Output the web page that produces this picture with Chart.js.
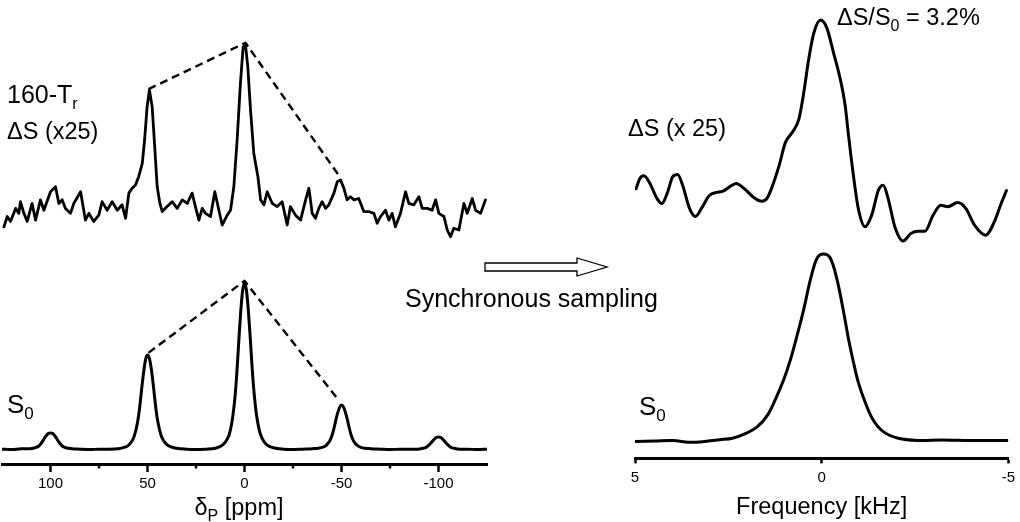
<!DOCTYPE html>
<html>
<head>
<meta charset="utf-8">
<script src="https://cdn.jsdelivr.net/npm/chart.js@4.4.1/dist/chart.umd.min.js"></script>
<style>
  html, body { margin: 0; padding: 0; background: #fff; }
  #wrap { position: relative; width: 1020px; height: 522px; overflow: hidden; }
  canvas { position: absolute; left: 0; top: 0; }
</style>
</head>
<body>
<div id="wrap">
  <canvas id="left" width="1020" height="522"></canvas>
  <canvas id="right" width="1020" height="522"></canvas>
</div>
<script>
// ---------------- DATA ----------------
// Left panel: 31P spectrum, chemical shift (ppm) vs intensity (arb. units, stacked)
const leftTickValues = [100, 50, 0, -50, -100];
const leftMinorTicks = [75, 25, -25, -75];

const leftS0Ppm = [125, 120, 115, 111, 108, 106, 105, 104, 103, 102, 101, 100, 99, 98, 97, 96, 95, 94, 92, 89, 85, 80, 75, 70, 65, 62, 60, 58, 57, 56, 55, 54, 53, 52, 51, 50, 49, 48, 47, 46, 45, 44, 43, 42, 40, 38, 35, 30, 25, 20, 15, 12, 10, 8, 7, 6, 5, 4, 3, 2, 1, 0, -1, -2, -3, -4, -5, -6, -7, -8, -10, -12, -15, -20, -25, -30, -35, -38, -40, -42, -43, -44, -45, -46, -47, -48, -49, -50, -51, -52, -53, -54, -55, -56, -57, -58, -60, -62, -65, -70, -75, -80, -85, -89, -92, -94, -95, -96, -97, -98, -99, -100, -101, -102, -103, -104, -105, -106, -108, -111, -115, -120, -125];
const leftS0Int = [3.3, 3.2, 3.4, 3.4, 3.6, 4.0, 4.5, 5.1, 5.8, 6.4, 6.8, 6.9, 6.8, 6.4, 5.8, 5.1, 4.5, 4.0, 3.6, 3.4, 3.3, 3.2, 3.3, 3.3, 3.4, 3.7, 4.1, 5.1, 6.0, 7.5, 9.6, 12.7, 16.7, 20.4, 23.2, 24.2, 23.4, 21.0, 17.5, 13.5, 10.2, 8.0, 6.4, 5.4, 4.3, 3.8, 3.5, 3.3, 3.2, 3.3, 3.5, 4.0, 4.8, 6.4, 8.1, 10.7, 14.4, 19.9, 26.9, 33.6, 38.4, 40.2, 38.6, 34.0, 27.8, 21.0, 15.5, 11.5, 8.8, 6.9, 5.0, 4.1, 3.6, 3.3, 3.2, 3.3, 3.4, 3.5, 3.7, 4.1, 4.6, 5.2, 6.2, 7.7, 9.6, 11.3, 12.6, 13.1, 12.7, 11.5, 9.9, 8.0, 6.4, 5.3, 4.6, 4.2, 3.7, 3.5, 3.4, 3.3, 3.2, 3.3, 3.3, 3.3, 3.5, 3.8, 4.2, 4.6, 5.1, 5.6, 5.9, 6.0, 5.9, 5.6, 5.1, 4.6, 4.2, 3.8, 3.5, 3.3, 3.3, 3.2, 3.3];

const leftDsPpm = [124.0, 122.3, 120.6, 118.0, 116.3, 115.5, 113.7, 112.0, 109.5, 107.7, 105.2, 103.4, 100.0, 97.4, 95.7, 94.0, 92.3, 89.7, 88.0, 84.5, 82.0, 80.2, 77.7, 75.1, 73.4, 70.8, 68.2, 65.6, 63.1, 61.3, 59.6, 57.9, 56.2, 54.5, 52.7, 51.5, 50.2, 49.0, 47.6, 46.4, 45.0, 43.6, 42.4, 39.9, 37.3, 34.7, 32.1, 29.5, 27.0, 25.3, 23.5, 21.8, 20.1, 17.5, 15.3, 13.2, 11.5, 8.9, 7.2, 5.5, 3.8, 2.1, 0.7, -0.5, -1.7, -3.1, -4.8, -6.9, -8.3, -10.0, -11.7, -14.3, -16.8, -19.4, -22.0, -23.7, -26.3, -28.9, -31.5, -33.2, -34.9, -36.6, -38.3, -40.0, -41.8, -43.5, -46.1, -47.8, -49.5, -51.2, -52.9, -54.6, -56.4, -58.9, -61.5, -64.1, -66.7, -68.4, -70.1, -72.7, -74.4, -76.1, -77.8, -80.4, -83.0, -84.7, -87.3, -89.9, -91.6, -94.2, -96.7, -98.5, -100.2, -102.8, -104.5, -106.2, -107.9, -110.5, -113.1, -114.8, -117.4, -119.1, -121.7, -124.2];
const leftDsInt = [52.7, 55.0, 53.9, 56.8, 55.7, 58.3, 55.7, 53.9, 57.9, 54.2, 58.7, 56.4, 60.5, 61.6, 57.9, 58.7, 56.8, 55.7, 57.9, 60.5, 54.2, 55.7, 53.9, 55.3, 58.3, 56.4, 58.3, 56.4, 57.6, 54.6, 60.2, 61.3, 62.0, 63.9, 66.8, 72.0, 79.4, 83.1, 79.4, 71.3, 61.6, 57.9, 56.1, 57.2, 58.3, 56.8, 58.7, 57.9, 60.2, 57.2, 54.2, 56.8, 55.7, 55.0, 60.5, 56.4, 53.1, 55.3, 56.4, 61.6, 72.0, 84.6, 92.7, 93.1, 88.3, 78.7, 69.0, 63.9, 58.7, 57.6, 60.5, 57.9, 57.2, 58.3, 53.1, 57.2, 55.3, 54.2, 58.7, 61.3, 55.7, 54.6, 56.8, 58.3, 56.8, 57.6, 60.2, 62.7, 63.1, 61.3, 58.7, 59.4, 58.7, 59.0, 56.1, 56.1, 55.7, 53.5, 55.0, 56.4, 54.2, 55.7, 52.7, 55.7, 60.5, 57.9, 57.6, 59.4, 56.8, 56.8, 56.4, 58.7, 55.7, 55.0, 52.0, 50.5, 52.4, 52.0, 57.9, 55.7, 59.0, 56.4, 55.7, 58.7];

// dashed envelopes joining the centre band and first sidebands
const leftDsEnvPpm = [49.5, -0.5, -49.5];
const leftDsEnvInt = [83.3, 93.6, 63.6];
const leftS0EnvPpm = [49.5, 0, -48.5];
const leftS0EnvInt = [24.7, 40.7, 14.2];

// Right panel: frequency (kHz) vs intensity (arb. units, stacked)
const rightTickValues = [5, 0, -5];

const rightS0Khz = [5.0, 4.47, 3.99, 3.46, 2.74, 2.39, 2.03, 1.72, 1.45, 1.23, 1.01, 0.83, 0.66, 0.48, 0.30, 0.12, -0.05, -0.23, -0.41, -0.59, -0.72, -0.85, -0.98, -1.16, -1.38, -1.65, -2.05, -2.58, -3.2, -3.99, -4.97];
const rightS0Int = [3.8, 3.9, 4.0, 3.6, 4.2, 4.5, 5.6, 7.1, 9.7, 13.4, 17.8, 22.3, 27.5, 33.4, 40.1, 44.9, 45.8, 44.9, 40.1, 32.7, 26.7, 21.6, 17.1, 12.7, 8.6, 6.0, 4.5, 4.0, 4.1, 4.0, 4.0];

const rightDsKhz = [4.97, 4.87, 4.76, 4.60, 4.41, 4.28, 4.12, 3.99, 3.86, 3.72, 3.54, 3.38, 3.22, 3.01, 2.82, 2.66, 2.42, 2.29, 2.07, 1.81, 1.60, 1.46, 1.32, 1.14, 0.97, 0.79, 0.61, 0.48, 0.35, 0.21, 0.03, -0.14, -0.32, -0.50, -0.63, -0.72, -0.85, -0.98, -1.16, -1.34, -1.52, -1.65, -1.78, -1.97, -2.18, -2.39, -2.58, -2.77, -2.98, -3.19, -3.38, -3.64, -3.86, -4.10, -4.39, -4.63, -4.79, -4.95];
const rightDsInt = [60.4, 62.7, 63.3, 61.6, 58.2, 57.1, 59.8, 63.1, 63.6, 61.1, 56.0, 54.2, 56.0, 58.9, 59.6, 59.8, 61.1, 61.6, 60.4, 58.4, 57.6, 58.3, 61.0, 65.6, 70.8, 73.0, 76.0, 81.9, 89.3, 95.3, 98.2, 96.4, 90.8, 84.9, 79.0, 72.3, 63.4, 56.0, 51.9, 54.5, 60.1, 61.2, 58.2, 51.6, 48.7, 50.4, 50.9, 50.9, 54.4, 56.7, 56.4, 57.3, 56.0, 52.2, 50.0, 53.1, 56.7, 60.0];

// ---------------- HELPERS ----------------
const FONT = '"Liberation Sans", Arial, Helvetica, sans-serif';
const zip = (xs, ys) => xs.map((x, i) => ({ x: x, y: ys[i] }));

function drawRich(ctx, x, y, parts, size, subSize, align) {
  ctx.save();
  ctx.fillStyle = '#000';
  ctx.textBaseline = 'alphabetic';
  ctx.textAlign = 'left';
  let total = 0;
  parts.forEach(p => {
    ctx.font = (p.sub ? subSize : size) + 'px ' + FONT;
    p.w = ctx.measureText(p.t).width;
    total += p.w;
  });
  let cx = align === 'center' ? x - total / 2 : x;
  parts.forEach(p => {
    ctx.font = (p.sub ? subSize : size) + 'px ' + FONT;
    ctx.fillText(p.t, cx, p.sub ? y + 6 : y);
    cx += p.w;
  });
  ctx.restore();
}

const lineBase = {
  borderColor: '#000',
  backgroundColor: '#000',
  pointRadius: 0,
  fill: false,
  borderJoinStyle: 'round',
  borderCapStyle: 'round'
};

// ---------------- LEFT CHART ----------------
const leftDecor = {
  id: 'leftDecor',
  afterDraw(chart) {
    const ctx = chart.ctx;
    const xs = chart.scales.x;
    const bottom = chart.chartArea.bottom;
    ctx.save();
    ctx.strokeStyle = '#000';
    ctx.lineWidth = 2.5;
    leftMinorTicks.forEach(v => {
      const px = xs.getPixelForValue(v);
      ctx.beginPath();
      ctx.moveTo(px, bottom);
      ctx.lineTo(px, bottom + 4.5);
      ctx.stroke();
    });
    ctx.restore();
    // axis title with subscript
    drawRich(ctx, 239, 515, [{ t: 'δ' }, { t: 'P', sub: true }, { t: ' [ppm]' }], 23.5, 16, 'center');
    // labels
    drawRich(ctx, 7, 103, [{ t: '160-T' }, { t: 'r', sub: true }], 25, 16);
    drawRich(ctx, 7, 139, [{ t: 'ΔS (x25)' }], 23.5, 16);
    drawRich(ctx, 7, 413, [{ t: 'S' }, { t: '0', sub: true }], 26, 17);
    drawRich(ctx, 405, 307, [{ t: 'Synchronous sampling' }], 25, 16);
    // hollow arrow
    ctx.save();
    ctx.beginPath();
    ctx.moveTo(485, 263);
    ctx.lineTo(577, 263);
    ctx.lineTo(577, 258);
    ctx.lineTo(607, 267);
    ctx.lineTo(577, 276);
    ctx.lineTo(577, 271);
    ctx.lineTo(485, 271);
    ctx.closePath();
    ctx.fillStyle = '#fff';
    ctx.fill();
    ctx.lineWidth = 1.3;
    ctx.strokeStyle = '#000';
    ctx.stroke();
    ctx.restore();
  }
};

new Chart(document.getElementById('left'), {
  type: 'line',
  data: {
    datasets: [
      Object.assign({}, lineBase, { label: 'ΔS (x25)', data: zip(leftDsPpm, leftDsInt), borderWidth: 2.8, tension: 0 }),
      Object.assign({}, lineBase, { label: 'S0', data: zip(leftS0Ppm, leftS0Int), borderWidth: 3, cubicInterpolationMode: 'monotone' }),
      Object.assign({}, lineBase, { label: 'ΔS envelope', data: zip(leftDsEnvPpm, leftDsEnvInt), borderWidth: 2.4, borderDash: [8, 5], borderCapStyle: 'butt', tension: 0 }),
      Object.assign({}, lineBase, { label: 'S0 envelope', data: zip(leftS0EnvPpm, leftS0EnvInt), borderWidth: 2.4, borderDash: [8, 5], borderCapStyle: 'butt', tension: 0 })
    ]
  },
  options: {
    responsive: false,
    animation: false,
    devicePixelRatio: 1,
    layout: { padding: { left: 2, right: 533, top: 14, bottom: 26 } },
    plugins: { legend: { display: false }, tooltip: { enabled: false } },
    scales: {
      x: {
        type: 'linear',
        min: -125,
        max: 125,
        reverse: true,
        afterBuildTicks: s => { s.ticks = leftTickValues.map(v => ({ value: v })); },
        ticks: {
          autoSkip: false, maxRotation: 0, padding: 3, color: '#000',
          font: { size: 15, family: FONT },
          callback: v => String(v)
        },
        grid: { drawOnChartArea: false, drawTicks: true, tickLength: 8, tickWidth: 2.5, tickColor: '#000' },
        border: { display: true, color: '#000', width: 3 },
        title: { display: false }
      },
      y: { display: false, min: 0, max: 100 }
    }
  },
  plugins: [leftDecor]
});

// ---------------- RIGHT CHART ----------------
const rightDecor = {
  id: 'rightDecor',
  afterDraw(chart) {
    const ctx = chart.ctx;
    drawRich(ctx, 628, 136, [{ t: 'ΔS (x 25)' }], 23.5, 16);
    drawRich(ctx, 837, 25, [{ t: 'ΔS/S' }, { t: '0', sub: true }, { t: ' = 3.2%' }], 23.5, 16);
    drawRich(ctx, 639, 415, [{ t: 'S' }, { t: '0', sub: true }], 26, 17);
  }
};

new Chart(document.getElementById('right'), {
  type: 'line',
  data: {
    datasets: [
      Object.assign({}, lineBase, { label: 'ΔS (x 25)', data: zip(rightDsKhz, rightDsInt), borderWidth: 3, cubicInterpolationMode: 'monotone' }),
      Object.assign({}, lineBase, { label: 'S0', data: zip(rightS0Khz, rightS0Int), borderWidth: 3, tension: 0.35 })
    ]
  },
  options: {
    responsive: false,
    animation: false,
    devicePixelRatio: 1,
    layout: { padding: { left: 635, right: 9, top: 12, bottom: 0.4 } },
    plugins: { legend: { display: false }, tooltip: { enabled: false } },
    scales: {
      x: {
        type: 'linear',
        min: -5,
        max: 5,
        reverse: true,
        afterBuildTicks: s => { s.ticks = rightTickValues.map(v => ({ value: v })); },
        ticks: {
          autoSkip: false, maxRotation: 0, padding: 5, color: '#000',
          font: { size: 15, family: FONT },
          callback: v => String(v)
        },
        grid: { drawOnChartArea: false, drawTicks: true, tickLength: 5, tickWidth: 2.5, tickColor: '#000' },
        border: { display: true, color: '#000', width: 3 },
        title: {
          display: true, text: 'Frequency [kHz]', color: '#000',
          font: { size: 23.5, family: FONT },
          padding: { top: 2, bottom: 0 }
        }
      },
      y: { display: false, min: 0, max: 100 }
    }
  },
  plugins: [rightDecor]
});
</script>
</body>
</html>
